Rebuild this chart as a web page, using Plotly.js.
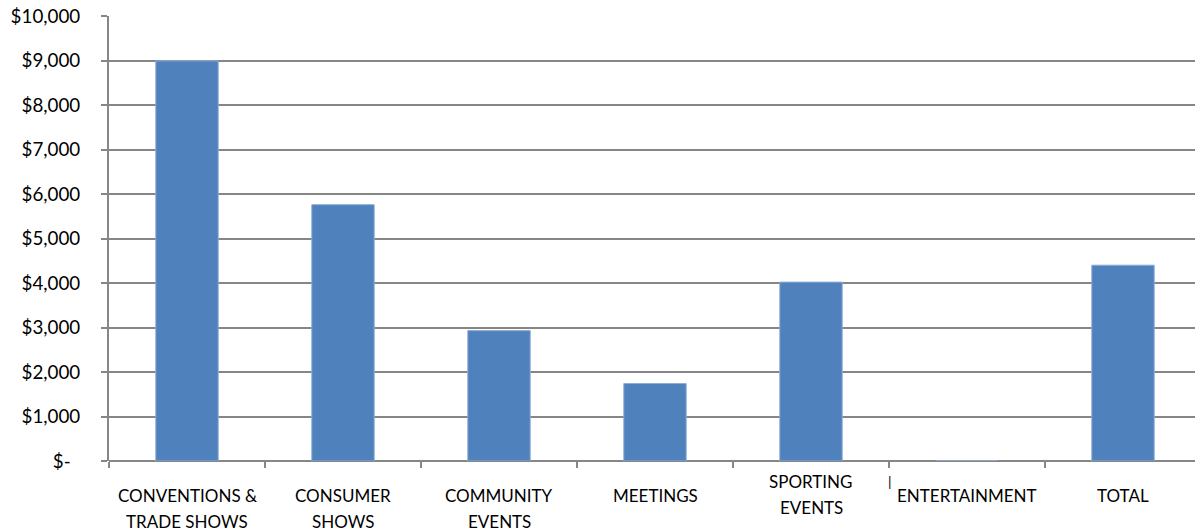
<!DOCTYPE html>
<html>
<head>
<meta charset="utf-8">
<script src="https://cdn.plot.ly/plotly-3.0.1.min.js"></script>
<style>
html,body{margin:0;padding:0;overflow:hidden;background:#fff;}
#chart{width:1210px;height:531px;}
</style>
</head>
<body>
<div id="chart"></div>
<script>
var categories = ["CONVENTIONS & TRADE SHOWS", "CONSUMER SHOWS", "COMMUNITY EVENTS", "MEETINGS", "SPORTING EVENTS", "ENTERTAINMENT", "TOTAL"];
var tickLabels = [["CONVENTIONS &amp;", "TRADE SHOWS"], ["CONSUMER", "SHOWS"], ["COMMUNITY", "EVENTS"], ["MEETINGS"], ["SPORTING", "EVENTS"], ["ENTERTAINMENT"], ["TOTAL"]];
var values = [8990, 5760, 2930, 1740, 4020, 0, 4400];
var yTickVals = [0, 1000, 2000, 3000, 4000, 5000, 6000, 7000, 8000, 9000, 10000];
var yTickText = ["$-\u00a0\u00a0", "$1,000", "$2,000", "$3,000", "$4,000", "$5,000", "$6,000", "$7,000", "$8,000", "$9,000", "$10,000"];

var FONT = "Lato, 'Open Sans', sans-serif";

var trace = {
  type: "bar",
  x: categories,
  y: values,
  marker: {color: "#4F81BD", line: {color: "#8EACD6", width: 1}},
  hoverinfo: "x+y"
};

// category labels drawn as annotations so line spacing can follow the reference
var annotations = [];
tickLabels.forEach(function (lines, i) {
  var centered = (categories[i] === "SPORTING EVENTS");
  lines.forEach(function (line, j) {
    var shift = centered ? (-20.5 - 26 * j) : (-34.5 - 25.5 * j);
    annotations.push({
      xref: "x", yref: "paper", x: categories[i], y: 0,
      yanchor: "middle", xanchor: "center", yshift: shift,
      text: line, showarrow: false,
      font: {family: FONT, size: 17, color: "#000"}
    });
  });
});
// small stray mark shown before the ENTERTAINMENT label in the reference
annotations.push({
  xref: "x", yref: "paper", x: 4.5, y: 0, xanchor: "center", yanchor: "middle",
  xshift: 0.5, yshift: -20.5, text: "|", showarrow: false,
  font: {family: FONT, size: 14, color: "#000"}
});

var layout = {
  width: 1210,
  height: 531,
  margin: {l: 109, r: 9, t: 16, b: 70.4},
  paper_bgcolor: "#ffffff",
  plot_bgcolor: "#ffffff",
  showlegend: false,
  bargap: 0.6,
  font: {family: FONT, size: 15, color: "#000"},
  annotations: annotations,
  xaxis: {
    type: "category",
    tickvals: categories,
    showticklabels: false,
    tickson: "boundaries",
    ticks: "outside",
    ticklen: 6,
    tickwidth: 2,
    tickcolor: "#868686",
    showline: false,
    showgrid: false,
    zeroline: false
  },
  yaxis: {
    range: [0, 10000],
    tickvals: yTickVals,
    ticktext: yTickText,
    ticks: "outside",
    ticklen: 6,
    tickwidth: 2,
    tickcolor: "#868686",
    showgrid: true,
    gridcolor: "#868686",
    gridwidth: 2,
    showline: true,
    linecolor: "#868686",
    linewidth: 2,
    zeroline: true,
    zerolinecolor: "#868686",
    zerolinewidth: 2,
    tickfont: {family: FONT, size: 18.8, color: "#000"},
    ticklabelstandoff: 17
  }
};

Plotly.newPlot("chart", [trace], layout, {displayModeBar: false, staticPlot: true});
</script>
</body>
</html>
